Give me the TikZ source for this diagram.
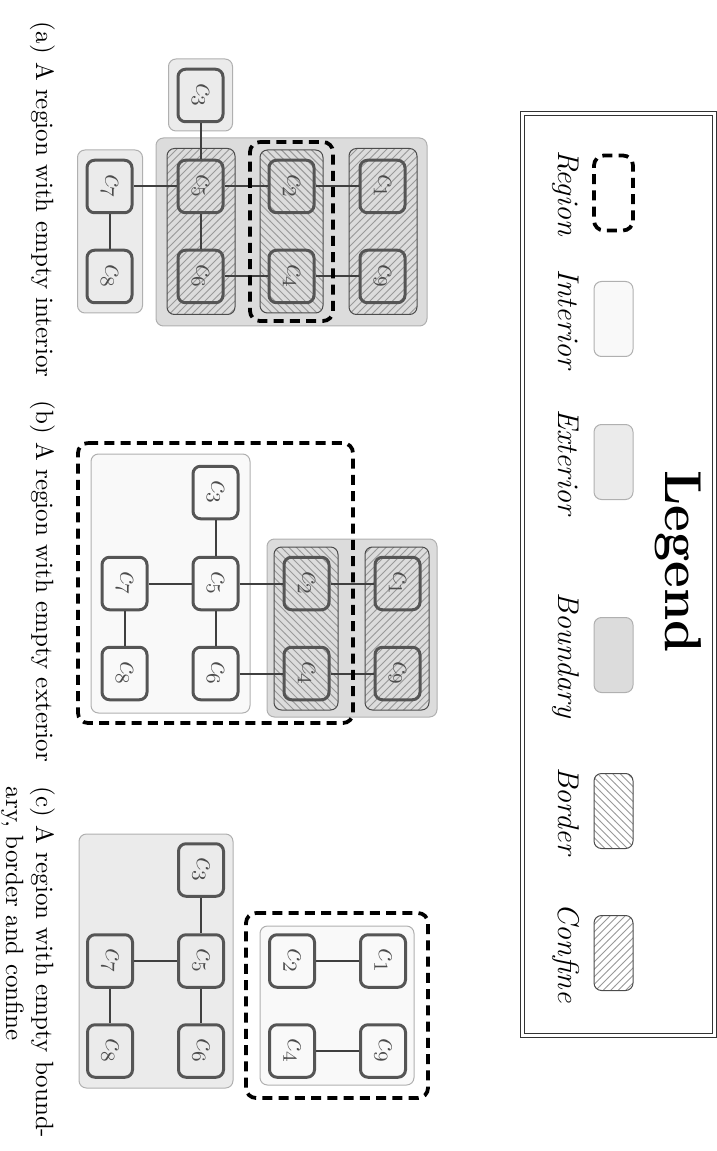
\documentclass[tikz,border=0pt]{standalone}
\usepackage{amsmath}
\usepackage{tikz}
\usetikzlibrary{patterns}

\definecolor{intfill}{HTML}{F9F9F9}
\definecolor{extfill}{HTML}{EBEBEB}
\definecolor{bndfill}{HTML}{DCDCDC}
\definecolor{boxline}{HTML}{B0B0B0}
\definecolor{cellline}{HTML}{555555}

\begin{document}
\begin{tikzpicture}[x=0.4pt,y=0.4pt,
    interior/.style={draw=boxline,fill=intfill,rounded corners=3pt},
    exterior/.style={draw=boxline,fill=extfill,rounded corners=3pt},
    boundary/.style={draw=boxline,fill=bndfill,rounded corners=3pt},
    border/.style={draw=black!70,pattern=north west lines,pattern color=black!40,rounded corners=3pt},
    confine/.style={draw=black!70,pattern=north east lines,pattern color=black!40,rounded corners=3pt},
    regionline/.style={draw=black,line width=1.5pt,dash pattern=on 4pt off 2.5pt,rounded corners=4pt},
    cell/.style={rectangle,rounded corners=3pt,draw=cellline,very thick,
                 minimum width=21pt,minimum height=18pt,inner sep=0pt,
                 text=black!70,font=\large},
    swatch/.style={rectangle,minimum width=30pt,minimum height=15.6pt,inner sep=0pt},
    keylabel/.style={anchor=base,font=\large\itshape},
    caption/.style={anchor=base west,font=\normalsize}]
\begin{scope}[rotate=-90,transform shape]
    \useasboundingbox (0,0) rectangle (1151,716);

	% legend
	\draw[draw=black!80,double=white,double distance=1.2pt] (114,522) rectangle (1035,714);
	\node[font=\huge\bfseries] (legendtitle) at (562,678) {Legend};
	\node[swatch,regionline] (kregion) at (193,613.5) {};
	\node[swatch,interior] (kinterior) at (319,613.5) {};
	\node[swatch,exterior] (kexterior) at (462,613.5) {};
	\node[swatch,boundary] (kboundary) at (655,613.5) {};
	\node[swatch,border] (kborder) at (811,613.5) {};
	\node[swatch,confine] (kconfine) at (953,613.5) {};
	\node[keylabel] (lregion) at (193,558) {Region};
	\node[keylabel] (linterior) at (319,558) {Interior};
	\node[keylabel] (lexterior) at (462,558) {Exterior};
	\node[keylabel] (lboundary) at (655,558) {Boundary};
	\node[keylabel] (lborder) at (811,558) {Border};
	\node[keylabel] (lconfine) at (953,558) {Confine};

	% (a) empty interior
	\begin{scope}[shift={(186.5,200.5)}]
	    \draw[boundary] (-48.5,-44.5) rectangle (139.5,226.5);
	    \draw[exterior] (-127.5,-32) rectangle (-55.5,32);
	    \draw[exterior] (-36.5,-123) rectangle (126.5,-58);
	    \draw[confine] (-38,-33.5) rectangle (128,34.5);
	    \draw[border] (-36.5,59.5) rectangle (126.5,122.5);
	    \draw[confine] (-38,148.5) rectangle (128,216.5);
	    \begin{scope}[every node/.style={cell}]
	        \node (a3) at (-91,0) {$c_3$};
	        \node (a5) at (0,0) {$c_5$};
	        \node (a6) at (90,0) {$c_6$};
	        \node (a7) at (0,-91) {$c_7$};
	        \node (a8) at (90,-91) {$c_8$};
	        \node (a2) at (0,91) {$c_2$};
	        \node (a4) at (90,91) {$c_4$};
	        \node (a1) at (0,182) {$c_1$};
	        \node (a9) at (90,182) {$c_9$};
	    \end{scope}
	    \begin{scope}[every edge/.style={draw=black!75,thick}]
	        \path (a3) edge (a5);
	        \path (a5) edge (a6);
	        \path (a5) edge (a7);
	        \path (a7) edge (a8);
	        \path (a5) edge (a2);
	        \path (a6) edge (a4);
	        \path (a2) edge (a1);
	        \path (a4) edge (a9);
	    \end{scope}
	    \draw[regionline] (-44.5,49.5) rectangle (134.5,132.5);
	\end{scope}
	\node[caption] (capa) at (13,36) {(a) A region with empty interior};

	% (b) empty exterior
	\begin{scope}[shift={(583.5,215.5)}]
	    \draw[interior] (-129.5,-124.5) rectangle (129.5,34.5);
	    \draw[boundary] (-44.5,51.5) rectangle (133.5,221.5);
	    \draw[border] (-36.5,58.5) rectangle (126.5,122.5);
	    \draw[confine] (-36.5,149.5) rectangle (126.5,213.5);
	    \begin{scope}[every node/.style={cell}]
	        \node (b3) at (-91,0) {$c_3$};
	        \node (b5) at (0,0) {$c_5$};
	        \node (b6) at (90,0) {$c_6$};
	        \node (b7) at (0,-91) {$c_7$};
	        \node (b8) at (90,-91) {$c_8$};
	        \node (b2) at (0,91) {$c_2$};
	        \node (b4) at (90,91) {$c_4$};
	        \node (b1) at (0,182) {$c_1$};
	        \node (b9) at (90,182) {$c_9$};
	    \end{scope}
	    \begin{scope}[every edge/.style={draw=black!75,thick}]
	        \path (b3) edge (b5);
	        \path (b5) edge (b6);
	        \path (b5) edge (b7);
	        \path (b7) edge (b8);
	        \path (b5) edge (b2);
	        \path (b6) edge (b4);
	        \path (b2) edge (b1);
	        \path (b4) edge (b9);
	    \end{scope}
	    \draw[regionline] (-140.5,-137.5) rectangle (139.5,137.5);
	\end{scope}
	\node[caption] (capb) at (392,36) {(b) A region with empty exterior};

	% (c) empty boundary, border and confine
	\begin{scope}[shift={(961,201)}]
	    \draw[exterior] (-127,-122) rectangle (127,32);
	    \draw[interior] (-35,59) rectangle (124,213);
	    \begin{scope}[every node/.style={cell}]
	        \node (c3) at (-91,0) {$c_3$};
	        \node (c5) at (0,0) {$c_5$};
	        \node (c6) at (90,0) {$c_6$};
	        \node (c7) at (0,-91) {$c_7$};
	        \node (c8) at (90,-91) {$c_8$};
	        \node (c2) at (0,91) {$c_2$};
	        \node (c4) at (90,91) {$c_4$};
	        \node (c1) at (0,182) {$c_1$};
	        \node (c9) at (90,182) {$c_9$};
	    \end{scope}
	    \begin{scope}[every edge/.style={draw=black!75,thick}]
	        \path (c3) edge (c5);
	        \path (c5) edge (c6);
	        \path (c5) edge (c7);
	        \path (c7) edge (c8);
	        \path (c2) edge (c1);
	        \path (c4) edge (c9);
	    \end{scope}
	    \draw[regionline] (-48,45) rectangle (137,227);
	\end{scope}
	\node[caption,align=left] (capc) at (778,6) {(c) A region with empty bound-\\ary, border and confine};
\end{scope}
\end{tikzpicture}
\end{document}
